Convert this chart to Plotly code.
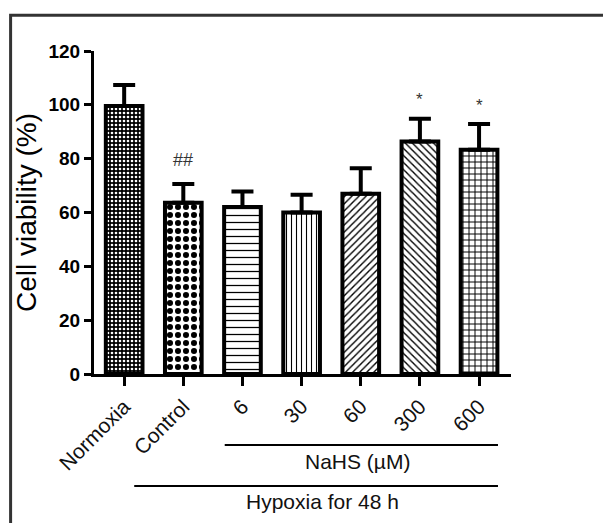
import plotly.graph_objects as go

categories = ["Normoxia", "Control", "6", "30", "60", "300", "600"]
viability = [99.6, 63.6, 62.0, 60.0, 67.0, 86.4, 83.3]
sem = [7.8, 7.0, 5.8, 6.6, 9.4, 8.4, 9.6]
markers = ["", "##", "", "", "", "*", "*"]

shapes_ = [".", ".", "-", "|", "/", "\\", "+"]
fg = ["white", "black", "black", "black", "black", "black", "black"]
bg = ["black", "white", "white", "white", "white", "white", "white"]
psize = [4, 8, 7, 5, 5, 5, 6]
psol = [0.35, 0.45, 0.18, 0.22, 0.28, 0.28, 0.3]

FONT = "Arial, Liberation Sans, sans-serif"

fig = go.Figure()
fig.add_trace(go.Bar(
    x=categories, y=viability, width=0.62,
    marker=dict(
        color="white",
        line=dict(color="black", width=4),
        pattern=dict(shape=shapes_, fgcolor=fg, bgcolor=bg, size=psize,
                     solidity=psol, fillmode="replace"),
    ),
    error_y=dict(type="data", array=sem, arrayminus=[0] * len(sem),
                 symmetric=False, color="black", thickness=4, width=11),
    showlegend=False,
))

annotations = []
for i, (v, e, m) in enumerate(zip(viability, sem, markers)):
    if m:
        annotations.append(dict(
            x=i, y=v + e + (9 if m == "##" else 7), xref="x", yref="y",
            text=m, showarrow=False,
            font=dict(family=FONT, size=18 if m == "##" else 17, color="#333"),
        ))

annotations += [
    dict(x=3.95, y=-0.272, xref="x", yref="paper", text="NaHS (µM)",
         xanchor="center", yanchor="middle",
         showarrow=False, font=dict(family=FONT, size=21, color="#111")),
    dict(x=3.36, y=-0.396, xref="x", yref="paper", text="Hypoxia for 48 h",
         xanchor="center", yanchor="middle",
         showarrow=False, font=dict(family=FONT, size=21, color="#111")),
]

shapes = [
    dict(type="line", xref="x", yref="paper", x0=1.7, x1=6.32, y0=-0.22, y1=-0.22,
         line=dict(color="black", width=2)),
    dict(type="line", xref="x", yref="paper", x0=0.17, x1=6.32, y0=-0.347, y1=-0.347,
         line=dict(color="black", width=2)),
    dict(type="rect", xref="paper", yref="paper", x0=-0.2, x1=1.4, y0=-0.6, y1=1.111,
         line=dict(color="#333", width=3), fillcolor="rgba(0,0,0,0)"),
]

fig.update_layout(
    width=603, height=515,
    margin=dict(l=86, r=100, t=43, b=149),
    paper_bgcolor="white", plot_bgcolor="white",
    font=dict(family=FONT, color="black"),
    annotations=annotations, shapes=shapes,
    bargap=0.3,
)
fig.update_xaxes(
    type="category", range=[-0.51, 6.54],
    showline=True, linecolor="black", linewidth=3,
    ticks="outside", ticklen=9, tickwidth=3, tickcolor="black",
    tickangle=-45, tickfont=dict(family=FONT, size=21, color="#111"),
    showgrid=False, zeroline=False,
)
fig.update_yaxes(
    range=[0, 120], dtick=20,
    showline=True, linecolor="black", linewidth=3,
    ticks="outside", ticklen=7, tickwidth=3, tickcolor="black",
    tickfont=dict(family=FONT, size=19, color="black", weight="bold"),
    showgrid=False, zeroline=False,
    title=dict(text="Cell viability (%)", standoff=4,
               font=dict(family=FONT, size=28, color="black")),
)

fig.write_html("out.html")
